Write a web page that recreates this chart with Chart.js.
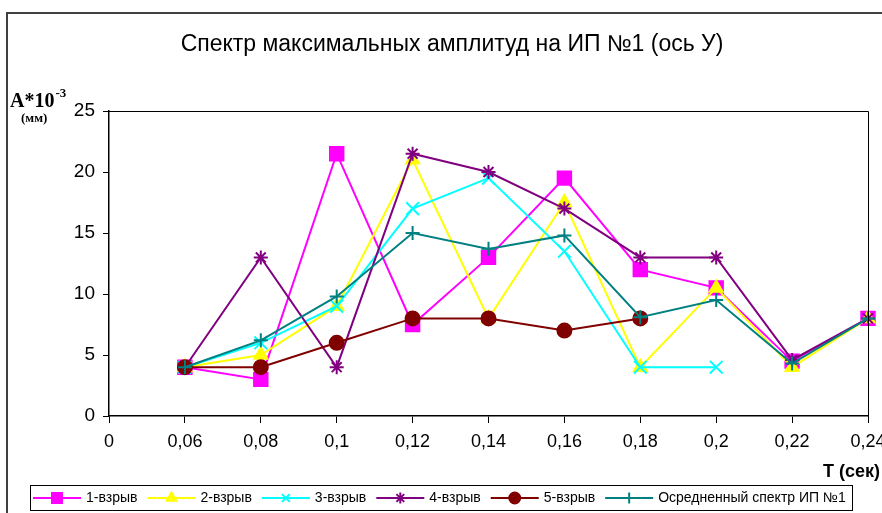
<!DOCTYPE html>
<html>
<head>
<meta charset="utf-8">
<script src="https://cdn.jsdelivr.net/npm/chart.js@4/dist/chart.umd.min.js"></script>
<style>
  body { margin: 0; background: #fff; }
  canvas { display: block; }
</style>
</head>
<body>
<canvas id="spectrChart" width="882" height="513"></canvas>
<script>
// Периоды T (сек) - первая категория "0" без данных
const periods = ["0", "0,06", "0,08", "0,1", "0,12", "0,14", "0,16", "0,18", "0,2", "0,22", "0,24"];
const yTicks = [0, 5, 10, 15, 20, 25];

const blast1 = [null, 4, 3, 21.5, 7.5, 13, 19.5, 12, 10.5, 4.5, 8];
const blast2 = [null, 4, 5, 9, 21, 8, 17.5, 4, 10.5, 4, 8];
const blast3 = [null, 4, 6, 9, 17, 19.5, 13.5, 4, 4, null, null];
const blast4 = [null, 4, 13, 4, 21.5, 20, 17, 13, 13, 4.6, 8];
const blast5 = [null, 4, 4, 6, 8, 8, 7, 8, null, null, null];
const averaged = [null, 4, 6.2, 9.8, 15, 13.7, 14.8, 8.1, 9.5, 4.3, 8];

const FONT = "Arial, 'Liberation Sans', sans-serif";
const SERIF = "'Times New Roman', 'Liberation Serif', serif";

function series(label, data, color, style, radius, order) {
  return {
    label: label,
    data: data,
    borderColor: color,
    backgroundColor: color,
    borderWidth: 2,
    pointStyle: style,
    pointRadius: radius,
    pointHoverRadius: radius,
    pointBorderWidth: 2,
    pointBackgroundColor: color,
    pointBorderColor: color,
    tension: 0,
    spanGaps: false,
    clip: false,
    order: order,
  };
}

// рамки, заголовки осей и легенда
const decorPlugin = {
  id: "decor",
  afterDraw(chart) {
    const ctx = chart.ctx;
    const area = chart.chartArea;
    ctx.save();

    // внешняя рамка диаграммы
    ctx.strokeStyle = "#404040";
    ctx.lineWidth = 2;
    ctx.beginPath();
    ctx.moveTo(7, 513);
    ctx.lineTo(7, 13);
    ctx.lineTo(882, 13);
    ctx.stroke();

    // верх и правая граница области построения
    ctx.strokeStyle = "#000";
    ctx.lineWidth = 1;
    ctx.beginPath();
    ctx.moveTo(area.left - 6, area.top + 0.5);
    ctx.lineTo(area.right + 0.5, area.top + 0.5);
    ctx.lineTo(area.right + 0.5, area.bottom + 7);
    ctx.stroke();

    // заголовок
    ctx.fillStyle = "#000";
    ctx.font = "23px " + FONT;
    ctx.textAlign = "center";
    ctx.textBaseline = "middle";
    ctx.fillText("Спектр максимальных амплитуд на ИП №1 (ось У)", 452, 45);

    // подпись оси Y
    ctx.textAlign = "left";
    ctx.textBaseline = "alphabetic";
    ctx.font = "bold 20px " + SERIF;
    ctx.fillText("A*10", 10, 107);
    const w = ctx.measureText("A*10").width;
    ctx.font = "bold 13px " + SERIF;
    ctx.fillText("-3", 10 + w + 1, 97);
    ctx.font = "bold 13px " + SERIF;
    ctx.fillText("(мм)", 21, 122);

    // подпись оси X
    ctx.font = "bold 18px " + FONT;
    ctx.textAlign = "right";
    ctx.fillText("T (сек)", 880, 477);

    // легенда
    const box = { left: 30, top: 485, right: 852, bottom: 510 };
    ctx.fillStyle = "#fff";
    ctx.fillRect(box.left, box.top, box.right - box.left, box.bottom - box.top);
    ctx.strokeStyle = "#000";
    ctx.lineWidth = 1;
    ctx.strokeRect(box.left + 0.5, box.top + 0.5, box.right - box.left, box.bottom - box.top);

    const cy = (box.top + box.bottom) / 2 + 0.5;
    let x = 33;
    ctx.font = "14px " + FONT;
    ctx.textBaseline = "middle";
    ctx.textAlign = "left";
    chart.data.datasets.forEach((ds) => {
      ctx.strokeStyle = ds.borderColor;
      ctx.fillStyle = ds.backgroundColor;
      ctx.lineWidth = 2;
      ctx.beginPath();
      ctx.moveTo(x, cy);
      ctx.lineTo(x + 48, cy);
      ctx.stroke();
      Chart.helpers.drawPoint(ctx, {
        pointStyle: ds.pointStyle,
        radius: ds.pointStyle === "rect" ? 7 : 5.5,
        rotation: 0,
        borderWidth: ds.pointBorderWidth,
      }, x + 24, cy);
      ctx.fillStyle = "#000";
      ctx.fillText(ds.label, x + 53, cy);
      x += 53 + ctx.measureText(ds.label).width + 10;
    });

    ctx.restore();
  },
};

const ctx = document.getElementById("spectrChart").getContext("2d");
const chart = new Chart(ctx, {
  type: "line",
  data: {
    labels: periods,
    datasets: [
      series("1-взрыв", blast1, "#FF00FF", "rect", 9.5, 5),
      series("2-взрыв", blast2, "#FFFF00", "triangle", 7.5, 4),
      series("3-взрыв", blast3, "#00FFFF", "crossRot", 9, 3),
      series("4-взрыв", blast4, "#800080", "star", 7, 2),
      series("5-взрыв", blast5, "#800000", "circle", 7, 1),
      series("Осредненный спектр ИП №1", averaged, "#008080", "cross", 7, 0),
    ],
  },
  options: {
    responsive: false,
    devicePixelRatio: 1,
    animation: false,
    layout: { padding: { left: 0, right: 14, top: 111, bottom: 0 } },
    plugins: {
      legend: { display: false },
      title: { display: false },
      tooltip: { enabled: false },
    },
    scales: {
      x: {
        type: "category",
        offset: false,
        grid: { drawOnChartArea: false, drawTicks: true, tickLength: 7, color: "#000", lineWidth: 1 },
        border: { display: true, color: "#000", width: 1.5 },
        ticks: {
          autoSkip: false,
          maxRotation: 0,
          minRotation: 0,
          padding: 8,
          color: "#000",
          font: { size: 18, family: FONT },
        },
        afterFit(scale) {
          scale.height = 97;
          scale.paddingLeft = 0;
          scale.paddingRight = 0;
        },
      },
      y: {
        min: 0,
        max: 25,
        afterBuildTicks(scale) {
          scale.ticks = yTicks.map((v) => ({ value: v }));
        },
        grid: { drawOnChartArea: false, drawTicks: true, tickLength: 6, color: "#000", lineWidth: 1 },
        border: { display: true, color: "#000", width: 1.5 },
        ticks: {
          padding: 8,
          color: "#000",
          font: { size: 19, family: FONT },
        },
        afterFit(scale) {
          scale.width = 109;
          scale.paddingTop = 0;
          scale.paddingBottom = 0;
        },
      },
    },
  },
  plugins: [decorPlugin],
});
</script>
</body>
</html>
